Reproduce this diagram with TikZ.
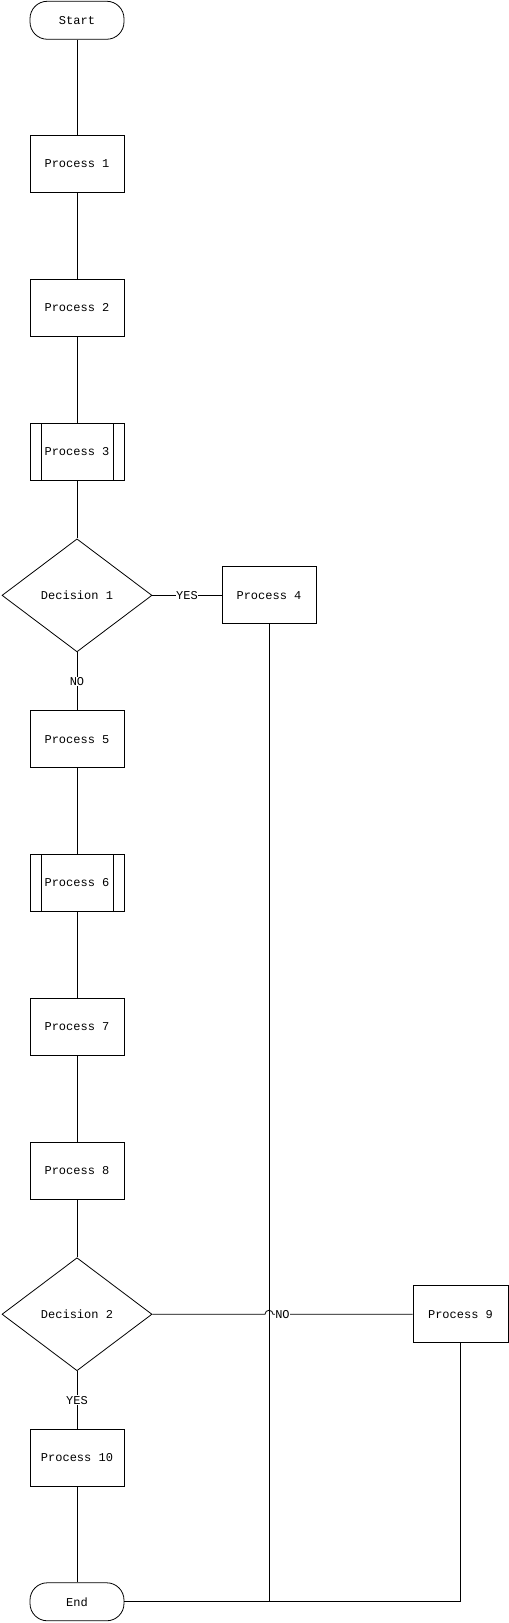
\documentclass[tikz,border=0pt]{standalone}
\usepackage{fontspec}
\setmonofont{Liberation Mono}
\usepackage{tikz}
\usetikzlibrary{positioning,shapes.geometric}

\begin{document}
\begin{tikzpicture}[font=\ttfamily\fontsize{9}{11}\selectfont, line width=0.6pt, node distance=107.83pt, on grid]
\tikzstyle{main}=[rectangle, draw=black, minimum width=70.5pt, minimum height=42.75pt, inner sep=0pt]
\tikzstyle{term}=[rectangle, rounded corners=13pt, draw=black, minimum width=70.5pt, minimum height=28.5pt, inner sep=0pt]
\tikzstyle{subproc}=[main, path picture={
  \draw ([xshift=8.25pt]path picture bounding box.north west) -- ([xshift=8.25pt]path picture bounding box.south west)
        ([xshift=-8.25pt]path picture bounding box.north east) -- ([xshift=-8.25pt]path picture bounding box.south east);}]
\tikzstyle{decide}=[diamond, draw=black, minimum width=112.5pt, minimum height=84.75pt, inner sep=0pt]
\tikzstyle{connect}=[draw=black]
\tikzstyle{lbl}=[fill=white, inner sep=0.5pt]
\useasboundingbox (0,0) rectangle (381.75pt,-1217.25pt);
\node[term] (start) at (57.75pt,-15.2pt) {Start};
\node[main] (p1) [below=of start] {Process 1};
\node[main] (p2) [below=of p1] {Process 2};
\node[subproc] (p3) [below=of p2] {Process 3};
\node[decide] (d1) [below=of p3] {Decision 1};
\node[main] (p4) [right=144pt of d1] {Process 4};
\node[main] (p5) [below=of d1] {Process 5};
\node[subproc] (p6) [below=of p5] {Process 6};
\node[main] (p7) [below=of p6] {Process 7};
\node[main] (p8) [below=of p7] {Process 8};
\node[decide] (d2) [below=of p8] {Decision 2};
\node[main, minimum width=71.25pt] (p9) [right=287.6pt of d2] {Process 9};
\node[main] (p10) [below=of d2] {Process 10};
\node[term] (e) [below=of p10] {End};
\path (start) edge [connect] (p1);
\path (p1) edge [connect] (p2);
\path (p2) edge [connect] (p3);
\path (p3) edge [connect] (d1);
\draw (d1.east) -- node[lbl] {YES} (p4.west);
\draw (d1.south) -- node[lbl] {NO} (p5.north);
\path (p5) edge [connect] (p6);
\path (p6) edge [connect] (p7);
\path (p7) edge [connect] (p8);
\path (p8) edge [connect] (d2);
\draw (d2.south) -- node[lbl] {YES} (p10.north);
\path (p10) edge [connect] (e);
% line jumps over the one coming down from Process 4
\coordinate (jmp) at (p4.south |- d2.east);
\draw (d2.east) -- ([xshift=-3pt]jmp) arc (180:0:3pt) -- (p9.west);
\path (d2.east) -- node[lbl] {NO} (p9.west);
\draw (p4.south) -- (p4.south |- e.east);
\draw (p9.south) -- (p9.south |- e.east) -- (e.east);
\end{tikzpicture}
\end{document}
